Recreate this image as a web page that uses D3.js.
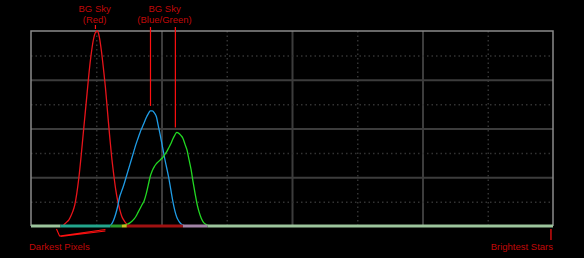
<!DOCTYPE html>
<html><head><meta charset="utf-8">
<script src="https://cdn.jsdelivr.net/npm/d3@7"></script>
<style>
html,body{margin:0;padding:0;background:#000;}
svg{display:block;}
text{font-family:"Liberation Sans",Arial,sans-serif;}
</style></head>
<body>
<svg id="c" width="584" height="258"></svg>
<script>
// Histogram data (bin index 0..255, relative count 0..100)
const redStart = 15;
const redValues = [0,1,2,3,5,7.5,11,17,25,35,46,57,68,79,88,95,99,100,97,90,81,71,59,47,36,27,19,13,8.5,5,3,1.5,0.7,0];
const blueStart = 38;
const blueValues = [0,1,3,6,10,15,18,21,24.5,28,31.5,35,38.5,42,45,48,50.5,53,55.5,57.5,59,59,58,56,51,46,40.5,35,30,25,19,13,8,4.5,2.5,1.2,0.5,0];
const greenStart = 44;
const greenValues = [0,0.3,0.6,1,1.6,2.4,3.5,5,7,9,11,13,16.5,21,25.5,28.5,30.5,32,33,34,35,36.5,38,40,42,44.5,46.5,48,47.5,46.5,45,42,39,34,29,22.5,16.5,11,7,4,2,1,0.5,0];
// Baseline segments [fromBin, toBin, colour]
const baseSegments = [[0,14.5,"#9cc49c"],[14.5,39,"#23a58c"],[39,44.5,"#2a9a2a"],[44.5,47,"#c8c020"],[47,74.5,"#a01212"],[74.5,86.5,"#a283a6"],[86.5,256,"#9cc49c"]];
// Annotations
const peakLabels = [{lines:["BG Sky","(Red)"], bin:31.2}, {lines:["BG Sky","(Blue/Green)"], bin:65.5}];
const peakMarkers = [{bin:31.6, val:null},{bin:58.6, val:59},{bin:70.8, val:48}];
const xTicks = [0,32,64,96,128,160,192,224,256];
const yTicks = [0,12.5,25,37.5,50,62.5,75,87.5,100];

const svg = d3.select("#c");
svg.append("rect").attr("width",584).attr("height",258).attr("fill","#000");
const x = d3.scaleLinear().domain([0,256]).range([31,553]);
const y = d3.scaleLinear().domain([0,100]).range([226,31]);

// grid via axes
const gx = svg.append("g").attr("transform","translate(0,226)")
  .call(d3.axisBottom(x).tickValues(xTicks.slice(1,-1)).tickSize(-195).tickFormat(""));
gx.select(".domain").remove();
gx.selectAll(".tick line").attr("stroke",(d)=> d%64===0 ? "#3c3c3c" : "#333")
  .attr("stroke-width",(d)=> d%64===0 ? 2 : 1.5)
  .attr("stroke-dasharray",(d)=> d%64===0 ? null : "1.5,3");
const gy = svg.append("g").attr("transform","translate(31,0)")
  .call(d3.axisLeft(y).tickValues(yTicks.slice(1,-1)).tickSize(-522).tickFormat(""));
gy.select(".domain").remove();
gy.selectAll(".tick line").attr("stroke",(d)=> d%25===0 ? "#3c3c3c" : "#333")
  .attr("stroke-width",(d)=> d%25===0 ? 2 : 1.5)
  .attr("stroke-dasharray",(d)=> d%25===0 ? null : "1.5,3");

// border
svg.append("path").attr("d",`M${x(0)},${y(0)}V${y(100)}H${x(256)}V${y(0)}`)
  .attr("fill","none").attr("stroke","#8a8a8a").attr("stroke-width",1.5);

// curves
function series(start, vals){ return vals.map((v,i)=>[start+i+0.5, v]); }
const line = d3.line().x(d=>x(d[0])).y(d=>y(d[1])).curve(d3.curveMonotoneX);
[[redStart,redValues,"#e8141a"],[blueStart,blueValues,"#1f9ce6"],[greenStart,greenValues,"#22d822"]].forEach(([s,v,c])=>{
  svg.append("path").attr("d",line(series(s,v))).attr("fill","none").attr("stroke",c).attr("stroke-width",1.3);
});

// baseline
baseSegments.forEach(([a,b,c])=>{
  svg.append("line").attr("x1",x(a)).attr("x2",x(b)).attr("y1",y(0)).attr("y2",y(0))
    .attr("stroke",c).attr("stroke-width",3);
});

// peak annotations
const labelColor = "#c00808";
peakLabels.forEach(l=>{
  l.lines.forEach((t,i)=>{
    svg.append("text").attr("x",x(l.bin)).attr("y",12+i*11).attr("text-anchor","middle")
      .attr("font-size",9.5).attr("fill",labelColor).text(t);
  });
});
peakMarkers.forEach(m=>{
  const y2 = m.val===null ? 29 : y(m.val)-5;
  const y1 = m.val===null ? 25 : 27;
  svg.append("line").attr("x1",x(m.bin)).attr("x2",x(m.bin)).attr("y1",y1).attr("y2",y2)
    .attr("stroke","#ff1010").attr("stroke-width",1.2);
});

// darkest / brightest
svg.append("path").attr("d",`M${x(12.5)},229L${x(14)},236L${x(36.5)},229.5M${x(14.5)},236.5L${x(36.5)},231`)
  .attr("fill","none").attr("stroke","#ff1010").attr("stroke-width",1.1);
svg.append("text").attr("x",29).attr("y",250).attr("font-size",9.5).attr("fill",labelColor).text("Darkest Pixels");
svg.append("line").attr("x1",x(255)).attr("x2",x(255)).attr("y1",229).attr("y2",240)
  .attr("stroke","#ff1010").attr("stroke-width",1.2);
svg.append("text").attr("x",553).attr("y",250).attr("text-anchor","end").attr("font-size",9.5).attr("fill",labelColor).text("Brightest Stars");
</script>
</body></html>
